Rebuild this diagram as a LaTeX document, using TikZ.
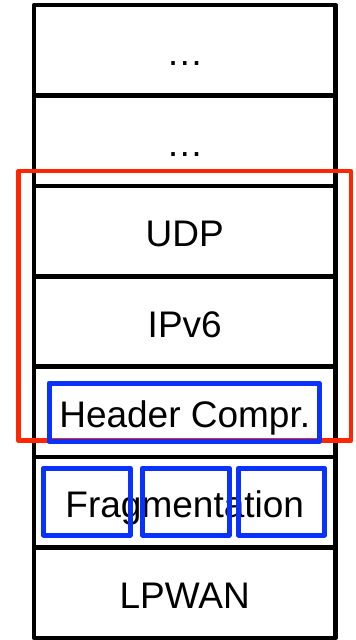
\documentclass[tikz,border=0pt]{standalone}
\usepackage{fontspec}
\setmainfont{Liberation Sans}
\definecolor{hlred}{RGB}{255,38,0}
\definecolor{hlblue}{RGB}{10,50,255}
\begin{document}
\begin{tikzpicture}[x=1pt,y=-1pt,
  layer/.style={draw=black,line width=4.5pt,line join=round,rectangle,
    minimum width=301.5pt,minimum height=90.43pt,inner sep=0pt,outer sep=0pt,
    font=\fontsize{37}{44}\selectfont,text height=31pt,text depth=0pt},
  redbox/.style={draw=hlred,line width=4.5pt,line join=round,rectangle,
    inner sep=0pt,outer sep=0pt},
  bluebox/.style={draw=hlblue,line width=5pt,line join=round,rectangle,
    inner sep=0pt,outer sep=0pt}]
\useasboundingbox (0,0) rectangle (356,640);
\node[layer] (l1) at (184.75,50.2) {\char"2026};
\node[layer] (l2) at (184.75,140.6) {\char"2026};
\node[layer] (udp) at (184.75,231.1) {UDP};
\node[layer] (ipv6) at (184.75,321.5) {IPv6};
\node[layer] (hc) at (184.75,411.9) {Header Compr.};
\node[layer] (frag) at (184.75,502.4) {Fragmentation};
\node[layer] (lpwan) at (184.75,592.8) {LPWAN};
\node[redbox,minimum width=332.5pt,minimum height=269.5pt] (red) at (184.75,305.75) {};
\node[bluebox,minimum width=270pt,minimum height=58.5pt] (bhc) at (184,412.25) {};
\node[bluebox,minimum width=86.5pt,minimum height=67pt] (f1) at (86.75,501.5) {};
\node[bluebox,minimum width=86.5pt,minimum height=67pt] (f2) at (185.75,501.5) {};
\node[bluebox,minimum width=86.2pt,minimum height=67pt] (f3) at (281.6,501.5) {};
\end{tikzpicture}
\end{document}
